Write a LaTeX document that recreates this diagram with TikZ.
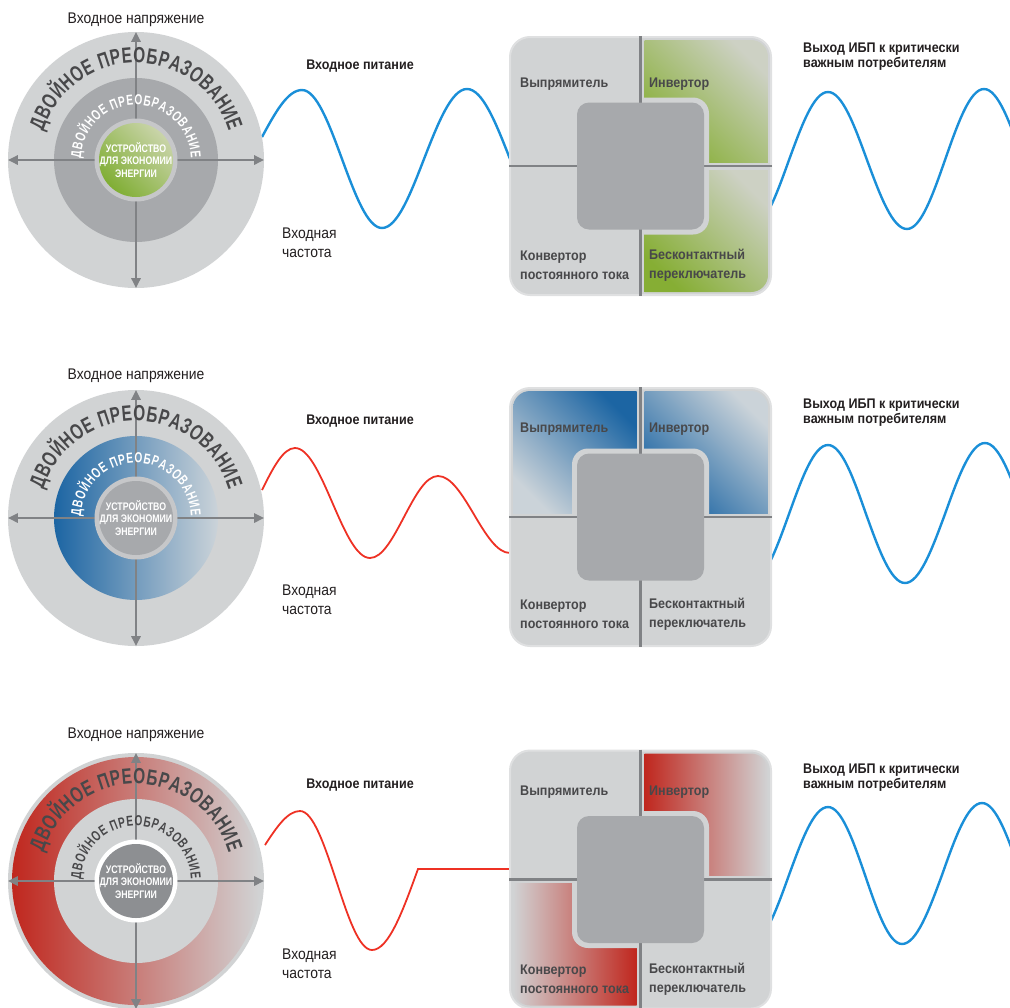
\documentclass[tikz,border=0pt]{standalone}
\usepackage{fontspec}
\setmainfont[FakeStretch=0.9]{Liberation Sans}
\newfontfamily\arcfont[FakeStretch=0.7]{Liberation Sans}
\newfontfamily\ecofont[FakeStretch=0.8]{Liberation Sans}
\usetikzlibrary{arrows.meta, decorations.text, positioning}
\definecolor{boxgrey}{HTML}{D1D3D4}
\definecolor{rimgrey}{HTML}{DFE0E1}
\definecolor{midgrey}{HTML}{A7A9AC}
\definecolor{ringgrey}{HTML}{C6C7C9}
\definecolor{darkcore}{HTML}{8D8F92}
\definecolor{axisgrey}{HTML}{808285}
\definecolor{labelgrey}{HTML}{48484A}
\definecolor{inkblack}{HTML}{231F20}
\definecolor{waveblue}{HTML}{1A8FD8}
\definecolor{wavered}{HTML}{EE3124}
\definecolor{greendark}{HTML}{86AE34}
\definecolor{greenlight}{HTML}{CDD1C4}
\definecolor{ecodark}{HTML}{80AE34}
\definecolor{ecolight}{HTML}{C9D4A9}
\definecolor{bluedark}{HTML}{1C65A3}
\definecolor{bluelight}{HTML}{CBD3D9}
\definecolor{reddark}{HTML}{C0271E}

\begin{document}
\begin{tikzpicture}[x=1bp, y=-1bp, >={Triangle[length=10bp,width=9bp]},
  disc/.style={circle, inner sep=0pt, minimum size=#1},
  axis/.style={<->, axisgrey, line width=2.5bp},
  divider/.style={axisgrey, line width=2.5bp},
  wave/.style={line width=2.4bp, waveblue},
  badwave/.style={line width=1.8bp, wavered},
  note/.style={font=\fontsize{15.5}{19}\selectfont, text=inkblack, inner sep=0pt},
  title/.style={font=\bfseries\fontsize{14}{15}\selectfont, text=inkblack, inner sep=0pt},
  part/.style={font=\bfseries\fontsize{14}{19.5}\selectfont, text=labelgrey, anchor=west, align=left, inner sep=0pt},
  eco/.style={font=\ecofont\bfseries\fontsize{11}{12.5}\selectfont, text=white, align=center, inner sep=0pt},
  frame/.style={fill=boxgrey, draw=rimgrey, line width=2bp, rounded corners=20bp, minimum width=261bp, minimum height=258bp, inner sep=0pt},
  gapbox/.style={fill=boxgrey, rounded corners=16bp, minimum size=137bp, inner sep=0pt},
  corebox/.style={fill=midgrey, rounded corners=12bp, minimum size=127bp, inner sep=0pt},
  bigarc/.style={decorate, decoration={text along path, text align={fit to path}, text color=#1,
    text={|\arcfont\bfseries\fontsize{22}{22}\selectfont|ДВОЙНОЕ ПРЕОБРАЗОВАНИЕ}}},
  smallarc/.style={decorate, decoration={text along path, text align={fit to path}, text color=#1,
    text={|\arcfont\bfseries\fontsize{14.5}{14.5}\selectfont|ДВОЙНОЕ ПРЕОБРАЗОВАНИЕ}}},
]
\useasboundingbox (0,0) rectangle (1010,1008);

% waves
\draw[wave] (262,137) sin (302,90) cos (342,159) sin (382,228) cos (424,159) sin (467,89) cos (510,159);
\draw[wave] (750,229) cos (789,160) sin (828,92) cos (867,160) sin (907,229) cos (945,160) sin (984,89) cos (1023,160);
\draw[badwave] (262,490) sin (295,448) cos (332.5,503) sin (370,558) cos (404,517) sin (438,476) cos (474,514.5) sin (510,553);
\draw[wave] (750,583) cos (789,514) sin (828,445) cos (866,514) sin (905,583) cos (945,514) sin (985,443) cos (1024,514);
\draw[badwave] (265,845) sin (300,811) cos (336,880) sin (372,950) cos (418,869) -- (510,869);
\draw[wave] (750,944) cos (789,875) sin (828,807) cos (865,875) sin (902,944) cos (942,875) sin (982,803) cos (1021,875);

% row 1
\node[note] (volt1) at (136,20) {Входное напряжение};
\node[disc=256bp, fill=boxgrey] (o1) at (136,160) {};
\node[disc=164bp, fill=midgrey] (m1) at (o1) {};
\draw[axis] (o1.west) -- (o1.east);
\draw[axis] (o1.north) -- (o1.south);
\path[bigarc=labelgrey] (o1.center) ++(-163:97) arc[start angle=-163, end angle=-17, radius=97];
\path[smallarc=white] (o1.center) ++(-178:55) arc[start angle=-178, end angle=-2, radius=55];
\node[disc=83bp, fill=ringgrey] (c1) at (o1) {};
\node[disc=74bp, top color=ecolight, bottom color=ecodark, shading angle=-45] (e1) at (o1) {};
\node[eco] (eco1) at (o1) {УСТРОЙСТВО\\ДЛЯ ЭКОНОМИИ\\ЭНЕРГИИ};
\node[title] (feed1) at (360,66) {Входное питание};
\node[note, anchor=west, align=left] (freq1) at (282,242.5) {Входная\\частота};
\node[title, anchor=west, align=left] (out1) at (803,56.5) {Выход ИБП к критически\\важным потребителям};
\node[frame] (b1) at (640.5,166) {};
\begin{scope}[shift={(640.5,166)}]
  \clip[rounded corners=17bp] (-127.5,-126) rectangle (127.5,126);
  \shade[top color=greenlight, bottom color=greendark, shading angle=-45] (4,-126) rectangle (127.5,-4);
  \shade[top color=greenlight, bottom color=greendark, shading angle=-45] (4,4) rectangle (127.5,126);
\end{scope}
\node[gapbox] (g1) at (b1) {};
\draw[divider] (b1.north) -- (b1.south);
\draw[divider] (b1.west) -- (b1.east);
\node[corebox] (k1) at (b1) {};
\node[part] (rect1) at (520,84) {Выпрямитель};
\node[part] (inv1) at (649,84) {Инвертор};
\node[part] (conv1) at (520,265.5) {Конвертор\\постоянного тока};
\node[part] (sw1) at (649,265.5) {Бесконтактный\\переключатель};

% row 2
\node[note] (volt2) at (136,376) {Входное напряжение};
\node[disc=256bp, fill=boxgrey] (o2) at (136,518) {};
\node[disc=164bp, left color=bluedark, right color=bluelight] (m2) at (o2) {};
\draw[axis] (o2.west) -- (o2.east);
\draw[axis] (o2.north) -- (o2.south);
\path[bigarc=labelgrey] (o2.center) ++(-163:97) arc[start angle=-163, end angle=-17, radius=97];
\path[smallarc=white] (o2.center) ++(-178:55) arc[start angle=-178, end angle=-2, radius=55];
\node[disc=83bp, fill=ringgrey] (c2) at (o2) {};
\node[disc=74bp, fill=midgrey] (e2) at (o2) {};
\node[eco] (eco2) at (o2) {УСТРОЙСТВО\\ДЛЯ ЭКОНОМИИ\\ЭНЕРГИИ};
\node[title] (feed2) at (360,421) {Входное питание};
\node[note, anchor=west, align=left] (freq2) at (282,600) {Входная\\частота};
\node[title, anchor=west, align=left] (out2) at (803,412.5) {Выход ИБП к критически\\важным потребителям};
\node[frame] (b2) at (640.5,517) {};
\begin{scope}[shift={(640.5,517)}]
  \clip[rounded corners=17bp] (-127.5,-126) rectangle (127.5,126);
  \shade[top color=bluedark, bottom color=bluelight, shading angle=-45] (-127.5,-126) rectangle (-4,-4);
  \shade[top color=bluelight, bottom color=bluedark, shading angle=-45] (4,-126) rectangle (127.5,-4);
\end{scope}
\node[gapbox] (g2) at (b2) {};
\draw[divider] (b2.north) -- (b2.south);
\draw[divider] (b2.west) -- (b2.east);
\node[corebox] (k2) at (b2) {};
\node[part] (rect2) at (520,429) {Выпрямитель};
\node[part] (inv2) at (649,429) {Инвертор};
\node[part] (conv2) at (520,614.5) {Конвертор\\постоянного тока};
\node[part] (sw2) at (649,614.5) {Бесконтактный\\переключатель};

% row 3
\node[note] (volt3) at (136,735) {Входное напряжение};
\node[disc=256bp, fill=boxgrey] (o3) at (136,881) {};
\node[disc=248bp, left color=reddark, middle color=reddark!45!boxgrey, right color=boxgrey] (r3) at (o3) {};
\node[disc=164bp, fill=boxgrey] (m3) at (o3) {};
\draw[axis] (o3.west) -- (o3.east);
\draw[axis] (o3.north) -- (o3.south);
\path[bigarc=labelgrey] (o3.center) ++(-163:97) arc[start angle=-163, end angle=-17, radius=97];
\path[smallarc=labelgrey] (o3.center) ++(-178:55) arc[start angle=-178, end angle=-2, radius=55];
\node[disc=83bp, fill=white] (c3) at (o3) {};
\node[disc=74bp, fill=darkcore] (e3) at (o3) {};
\node[eco] (eco3) at (o3) {УСТРОЙСТВО\\ДЛЯ ЭКОНОМИИ\\ЭНЕРГИИ};
\node[title] (feed3) at (360,785) {Входное питание};
\node[note, anchor=west, align=left] (freq3) at (282,964) {Входная\\частота};
\node[title, anchor=west, align=left] (out3) at (803,777.5) {Выход ИБП к критически\\важным потребителям};
\node[frame] (b3) at (640.5,879.5) {};
\begin{scope}[shift={(640.5,879.5)}]
  \clip[rounded corners=17bp] (-127.5,-126) rectangle (127.5,126);
  \shade[left color=reddark, right color=boxgrey] (4,-126) rectangle (127.5,-4);
  \shade[left color=boxgrey, right color=reddark] (-127.5,4) rectangle (-4,126);
\end{scope}
\node[gapbox] (g3) at (b3) {};
\draw[divider] (b3.north) -- (b3.south);
\draw[divider] (b3.west) -- (b3.east);
\node[corebox] (k3) at (b3) {};
\node[part] (rect3) at (520,792) {Выпрямитель};
\node[part] (inv3) at (649,792) {Инвертор};
\node[part] (conv3) at (520,979) {Конвертор\\постоянного тока};
\node[part] (sw3) at (649,979) {Бесконтактный\\переключатель};
\end{tikzpicture}
\end{document}
